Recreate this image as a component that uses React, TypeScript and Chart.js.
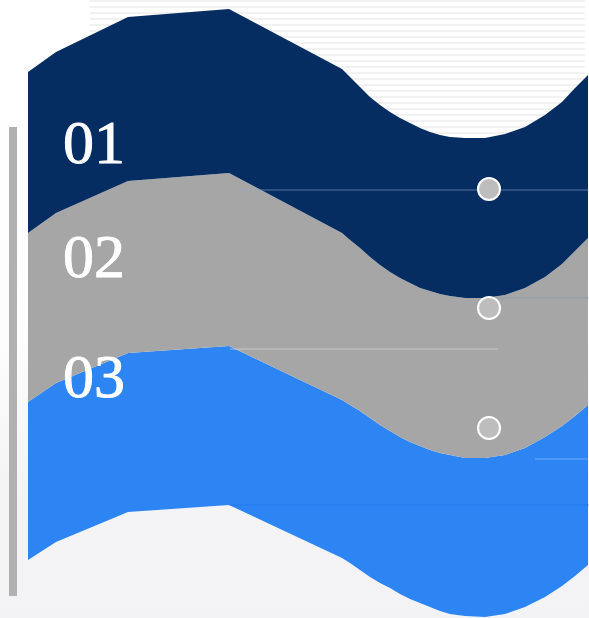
import React, { useEffect, useRef } from "react";
import { Chart, registerables } from "chart.js";

Chart.register(...registerables);

// Shared x positions along the ribbon edges
const edgeX = [28, 56, 128, 229, 342, 350, 360, 370, 380, 390, 400, 410, 420, 430, 440, 450, 465, 485, 505, 525, 545, 562, 575, 588];
// Edge heights (top of each ribbon, plus bottom of the last one)
const band1Top = [72, 52, 17, 9, 69, 77, 87, 97, 105, 112, 118, 123, 128, 132, 135, 137, 138, 138, 134, 127, 115, 102, 88, 75];
const band2Top = [233, 213, 181, 173, 233, 240, 248, 257, 265, 272, 278, 283, 288, 291, 294, 296, 298, 298, 295, 288, 277, 264, 251, 238];
const band3Top = [402, 383, 353, 346, 400, 405, 411, 418, 425, 431, 437, 442, 446, 450, 453, 455, 458, 458, 455, 448, 437, 426, 416, 405];
const band3Bottom = [560, 542, 512, 505, 558, 563, 570, 577, 583, 588, 594, 599, 603, 607, 611, 614, 616, 617, 614, 607, 597, 586, 576, 565];

const labels = ["01", "02", "03"];
const labelX = 63;
const labelBaseline = [163, 277, 397];

const markerX = [489, 489, 489];
const markerY = [189, 308, 428];

const guideLines = [
  { x: [240, 589], y: 190, color: "rgba(150,172,205,0.55)" },
  { x: [490, 589], y: 298, color: "rgba(120,140,170,0.45)" },
  { x: [230, 498], y: 349, color: "rgba(215,215,215,0.7)" },
  { x: [535, 589], y: 459, color: "rgba(160,200,255,0.6)" },
  { x: [229, 589], y: 505, color: "rgba(30,110,225,0.55)" },
];

const NAVY = "#062d62";
const GRAY = "#a6a6a6";
const BLUE = "#2c85f3";

const toPts = (ys: number[]) => edgeX.map((x, i) => ({ x, y: ys[i] }));

export default function App() {
  const ref = useRef<HTMLCanvasElement | null>(null);

  useEffect(() => {
    document.body.style.margin = "0";
    if (!ref.current) return;

    const textPlugin = {
      id: "bandLabels",
      afterDatasetsDraw(chart: any) {
        const { ctx, scales } = chart;
        ctx.save();
        ctx.fillStyle = "#ffffff";
        ctx.strokeStyle = "#ffffff";
        ctx.lineWidth = 0.9;
        ctx.font = '62px "Liberation Serif", "Times New Roman", serif';
        ctx.textBaseline = "alphabetic";
        ctx.textAlign = "left";
        labels.forEach((t, i) => {
          const px = scales.x.getPixelForValue(labelX);
          const py = scales.y.getPixelForValue(labelBaseline[i]);
          ctx.fillText(t, px, py);
          ctx.strokeText(t, px, py);
        });
        ctx.restore();
      },
    };

    const base = { pointRadius: 0, borderWidth: 0, tension: 0, showLine: true };

    const chart = new Chart(ref.current, {
      type: "line",
      data: {
        datasets: [
          { ...base, data: toPts(band1Top), fill: "+1", backgroundColor: NAVY, borderColor: NAVY, order: 10 },
          { ...base, data: toPts(band2Top), fill: "+1", backgroundColor: GRAY, borderColor: GRAY, order: 10 },
          { ...base, data: toPts(band3Top), fill: "+1", backgroundColor: BLUE, borderColor: BLUE, order: 10 },
          { ...base, data: toPts(band3Bottom), fill: false, borderColor: BLUE, order: 10 },
          ...guideLines.map((g) => ({
            data: g.x.map((x) => ({ x, y: g.y })),
            borderColor: g.color,
            borderWidth: 1,
            pointRadius: 0,
            fill: false,
            order: 5,
          })),
          {
            data: markerX.map((x, i) => ({ x, y: markerY[i] })),
            showLine: false,
            pointRadius: 11,
            pointBorderWidth: 2,
            pointBackgroundColor: "#bdbdbd",
            pointBorderColor: "#ffffff",
            fill: false,
            order: 1,
          },
        ] as any,
      },
      options: {
        animation: false,
        responsive: false,
        maintainAspectRatio: false,
        layout: { padding: 0, autoPadding: false },
        events: [],
        scales: {
          x: { type: "linear", min: 0, max: 589, display: false },
          y: { type: "linear", min: 0, max: 618, reverse: true, display: false },
        },
        plugins: {
          legend: { display: false },
          tooltip: { enabled: false },
          filler: { propagate: false },
        },
      } as any,
      plugins: [textPlugin],
    });
    return () => chart.destroy();
  }, []);

  return (
    <div
      style={{
        position: "relative",
        width: 589,
        height: 618,
        overflow: "hidden",
        background: "linear-gradient(to bottom, #ffffff 0%, #fdfdfd 55%, #f4f4f7 78%, #f3f3f6 100%)",
      }}
    >
      <div
        style={{
          position: "absolute",
          left: 90,
          top: 0,
          width: 495,
          height: 140,
          background: "repeating-linear-gradient(to bottom, #f1f1f1 0px, #f1f1f1 2px, #ffffff 2px, #ffffff 6px)",
        }}
      />
      <div style={{ position: "absolute", left: 9, top: 127, width: 8, height: 469, background: "#b1b1b1" }} />
      <canvas ref={ref} width={589} height={618} style={{ position: "absolute", left: 0, top: 0 }} />
    </div>
  );
}
